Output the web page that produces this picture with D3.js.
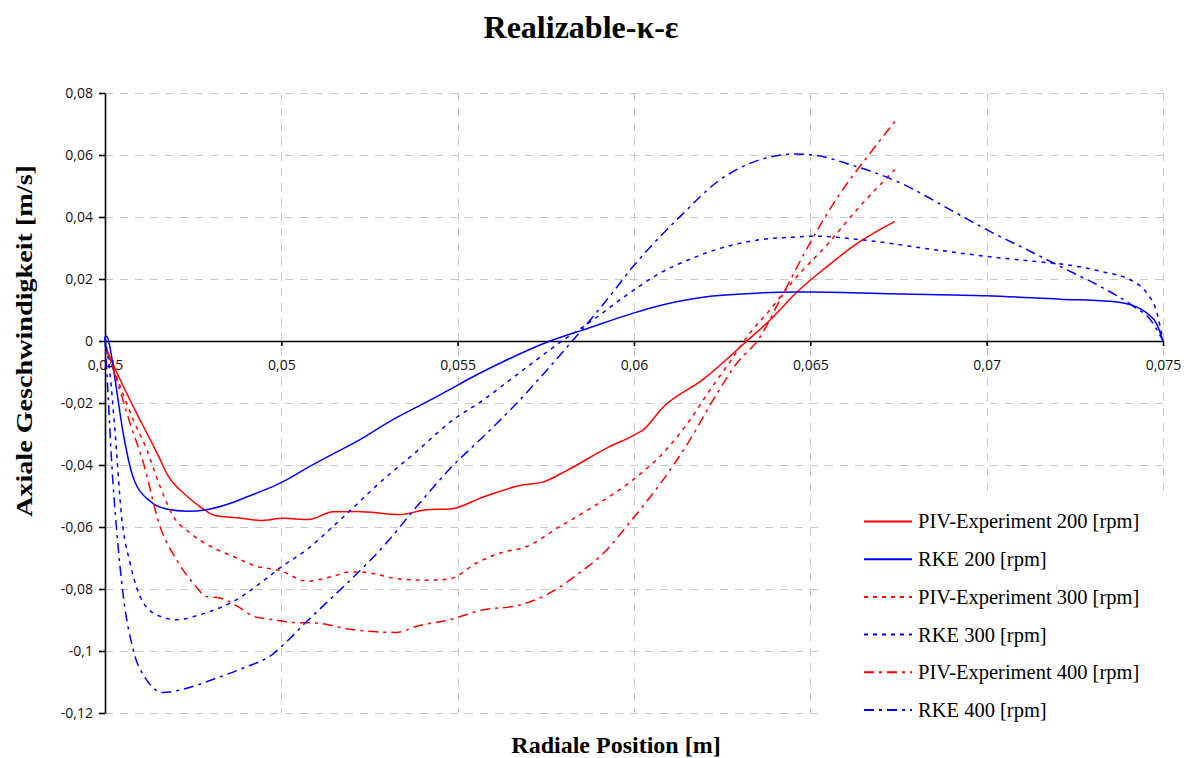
<!DOCTYPE html>
<html>
<head>
<meta charset="utf-8">
<script src="https://cdn.jsdelivr.net/npm/d3@7"></script>
<style>
  body { margin: 0; background: #fff; }
  svg { display: block; }
</style>
</head>
<body>
<svg id="chart" width="1189" height="758"></svg>
<script>
// ---- data -------------------------------------------------------------
const chartTitle = "Realizable-κ-ε";
const xAxisTitle = "Radiale Position [m]";
const yAxisTitle = "Axiale Geschwindigkeit [m/s]";

const xTickValues = [0.045, 0.05, 0.055, 0.06, 0.065, 0.07, 0.075];
const yTickValues = [0.08, 0.06, 0.04, 0.02, 0, -0.02, -0.04, -0.06, -0.08, -0.1, -0.12];

const seriesNames = [
  "PIV-Experiment 200 [rpm]",
  "RKE 200 [rpm]",
  "PIV-Experiment 300 [rpm]",
  "RKE 300 [rpm]",
  "PIV-Experiment 400 [rpm]",
  "RKE 400 [rpm]"
];

// radial position [m], axial velocity [m/s]
const piv200 = [
  [0.04505,-0.0028],[0.04543,-0.0125],[0.04599,-0.0254],[0.04647,-0.0360],[0.04680,-0.0437],
  [0.04732,-0.0500],[0.04769,-0.0534],[0.04812,-0.0563],[0.04883,-0.0571],[0.04940,-0.0579],
  [0.05006,-0.0572],[0.05077,-0.0576],[0.05147,-0.0551],[0.05214,-0.0550],[0.05337,-0.0560],
  [0.05412,-0.0544],[0.05478,-0.0542],[0.05573,-0.0503],[0.05686,-0.0464],[0.05739,-0.0456],
  [0.05809,-0.0418],[0.05932,-0.0340],[0.05998,-0.0305],[0.06027,-0.0286],[0.06083,-0.0213],
  [0.06197,-0.0123],[0.06320,0.0000],[0.06386,0.0068],[0.06462,0.0158],[0.06547,0.0240],
  [0.06641,0.0321],[0.06740,0.0386]
];

const rke200 = [
  [0.04500,0.0010],[0.04505,0.0015],[0.04514,-0.0020],[0.04528,-0.0120],[0.04552,-0.0300],
  [0.04580,-0.0440],[0.04628,-0.0517],[0.04675,-0.0542],[0.04732,-0.0549],[0.04788,-0.0544],
  [0.04864,-0.0520],[0.04911,-0.0499],[0.04977,-0.0469],[0.05006,-0.0453],[0.05072,-0.0410],
  [0.05147,-0.0364],[0.05214,-0.0324],[0.05308,-0.0259],[0.05403,-0.0202],[0.05459,-0.0168],
  [0.05554,-0.0109],[0.05630,-0.0066],[0.05762,0.0000],[0.05857,0.0036],[0.05998,0.0090],
  [0.06083,0.0117],[0.06216,0.0144],[0.06358,0.0155],[0.06452,0.0158],[0.06499,0.0158],
  [0.06755,0.0152],[0.07000,0.0146],[0.07208,0.0135],[0.07350,0.0128],[0.07416,0.0114],
  [0.07454,0.0090],[0.07483,0.0053],[0.07500,0.0000]
];

const piv300 = [
  [0.04505,-0.0030],[0.04543,-0.0146],[0.04580,-0.0254],[0.04618,-0.0350],[0.04656,-0.0469],
  [0.04694,-0.0566],[0.04741,-0.0619],[0.04798,-0.0662],[0.04864,-0.0695],[0.04930,-0.0727],
  [0.04996,-0.0740],[0.05072,-0.0775],[0.05147,-0.0759],[0.05195,-0.0745],[0.05233,-0.0746],
  [0.05337,-0.0768],[0.05412,-0.0772],[0.05478,-0.0767],[0.05554,-0.0716],[0.05620,-0.0684],
  [0.05696,-0.0663],[0.05790,-0.0598],[0.05885,-0.0534],[0.05998,-0.0447],[0.06083,-0.0361],
  [0.06159,-0.0254],[0.06216,-0.0157],[0.06263,-0.0082],[0.06329,0.0026],[0.06386,0.0101],
  [0.06452,0.0195],[0.06547,0.0310],[0.06641,0.0435],[0.06740,0.0553]
];

const rke300 = [
  [0.04500,0.0010],[0.04514,-0.0102],[0.04528,-0.0286],[0.04547,-0.0566],[0.04571,-0.0716],
  [0.04609,-0.0845],[0.04656,-0.0888],[0.04703,-0.0899],[0.04769,-0.0883],[0.04864,-0.0840],
  [0.04959,-0.0765],[0.04996,-0.0732],[0.05072,-0.0673],[0.05147,-0.0598],[0.05195,-0.0547],
  [0.05289,-0.0447],[0.05384,-0.0356],[0.05478,-0.0262],[0.05573,-0.0190],[0.05649,-0.0125],
  [0.05796,0.0000],[0.05885,0.0069],[0.05980,0.0149],[0.06074,0.0219],[0.06168,0.0268],
  [0.06263,0.0305],[0.06358,0.0327],[0.06452,0.0335],[0.06518,0.0338],[0.06641,0.0327],
  [0.06849,0.0295],[0.07000,0.0273],[0.07133,0.0257],[0.07227,0.0246],[0.07322,0.0225],
  [0.07416,0.0192],[0.07454,0.0155],[0.07483,0.0090],[0.07500,0.0000]
];

const piv400 = [
  [0.04505,-0.0030],[0.04533,-0.0125],[0.04571,-0.0265],[0.04609,-0.0394],[0.04656,-0.0598],
  [0.04703,-0.0706],[0.04750,-0.0781],[0.04788,-0.0824],[0.04826,-0.0829],[0.04883,-0.0861],
  [0.04921,-0.0888],[0.04977,-0.0899],[0.05034,-0.0908],[0.05100,-0.0910],[0.05195,-0.0930],
  [0.05327,-0.0940],[0.05384,-0.0920],[0.05478,-0.0899],[0.05573,-0.0867],[0.05668,-0.0854],
  [0.05753,-0.0818],[0.05857,-0.0738],[0.05904,-0.0695],[0.05998,-0.0571],[0.06083,-0.0447],
  [0.06159,-0.0318],[0.06225,-0.0189],[0.06292,-0.0071],[0.06353,0.0005],[0.06424,0.0155],
  [0.06499,0.0316],[0.06585,0.0477],[0.06660,0.0592],[0.06740,0.0708]
];

const rke400 = [
  [0.04500,0.0015],[0.04509,-0.0179],[0.04519,-0.0394],[0.04533,-0.0609],[0.04552,-0.0824],
  [0.04580,-0.0996],[0.04618,-0.1093],[0.04665,-0.1134],[0.04732,-0.1120],[0.04817,-0.1087],
  [0.04892,-0.1055],[0.04977,-0.1009],[0.05001,-0.0985],[0.05072,-0.0905],[0.05147,-0.0824],
  [0.05195,-0.0772],[0.05289,-0.0663],[0.05384,-0.0534],[0.05478,-0.0412],[0.05573,-0.0308],
  [0.05668,-0.0200],[0.05762,-0.0082],[0.05828,0.0004],[0.05885,0.0080],[0.05923,0.0133],
  [0.05998,0.0241],[0.06131,0.0402],[0.06244,0.0520],[0.06358,0.0585],[0.06452,0.0603],
  [0.06509,0.0600],[0.06613,0.0569],[0.06755,0.0510],[0.06896,0.0424],[0.07000,0.0359],
  [0.07133,0.0284],[0.07227,0.0230],[0.07322,0.0176],[0.07416,0.0112],[0.07464,0.0069],
  [0.07500,0.0000]
];

// ---- styling per series ------------------------------------------------
const RED = "#ff0000", BLUE = "#0000ff";
const DOT = "4,5", DASHDOT = "10,5,3,5";
const series = [
  { name: seriesNames[0], data: piv200, color: RED,  dash: null },
  { name: seriesNames[1], data: rke200, color: BLUE, dash: null },
  { name: seriesNames[2], data: piv300, color: RED,  dash: DOT },
  { name: seriesNames[3], data: rke300, color: BLUE, dash: DOT },
  { name: seriesNames[4], data: piv400, color: RED,  dash: DASHDOT },
  { name: seriesNames[5], data: rke400, color: BLUE, dash: DASHDOT }
];

// ---- layout -------------------------------------------------------------
const svg = d3.select("#chart");
const W = 1189, H = 758;
const margin = { top: 93, right: 26, bottom: 45, left: 105 };
const serif = '"Liberation Serif", "Times New Roman", serif';
const sans = '"Open Sans", "Noto Sans", sans-serif';

const x = d3.scaleLinear().domain([0.045, 0.075]).range([margin.left, W - margin.right]);
const y = d3.scaleLinear().domain([-0.12, 0.08]).range([H - margin.bottom, margin.top]);

const locale = d3.formatLocale({ decimal: ",", thousands: ".", grouping: [3], currency: ["", "€"], minus: "-" });
const fmt = v => locale.format("~g")(+v.toFixed(4));

// gridlines
const grid = svg.append("g").attr("stroke", "#c8c8c8").attr("stroke-width", 1)
  .attr("stroke-dasharray", "8,7").attr("shape-rendering", "crispEdges");
grid.selectAll("line.h").data(yTickValues.filter(v => v !== 0)).join("line")
  .attr("class", "h")
  .attr("x1", x(0.045)).attr("x2", x(0.075))
  .attr("y1", d => Math.round(y(d)) + 0.5).attr("y2", d => Math.round(y(d)) + 0.5);
grid.selectAll("line.v").data(xTickValues.filter(v => v !== 0.045)).join("line")
  .attr("class", "v")
  .attr("y1", y(0.08)).attr("y2", y(-0.12))
  .attr("x1", d => Math.round(x(d)) + 0.5).attr("x2", d => Math.round(x(d)) + 0.5);

// y axis
const yAxis = svg.append("g")
  .attr("transform", `translate(${x(0.045)},0)`)
  .call(d3.axisLeft(y).tickValues(yTickValues).tickFormat(fmt).tickSize(6).tickSizeOuter(0).tickPadding(6));

// x axis on the zero line
const xAxis = svg.append("g")
  .attr("transform", `translate(0,${y(0)})`)
  .call(d3.axisBottom(x).tickValues(xTickValues).tickFormat(fmt).tickSize(5).tickSizeOuter(0).tickPadding(14));

[yAxis, xAxis].forEach(g => {
  g.select(".domain").attr("stroke", "#000").attr("stroke-width", 1.6);
  g.selectAll(".tick line").attr("stroke", "#000").attr("stroke-width", 1.6);
  g.selectAll(".tick text").attr("fill", "#111").style("font-family", sans).style("font-size", "14px");
});

// series
const line = d3.line().x(d => x(d[0])).y(d => y(d[1])).curve(d3.curveMonotoneX);
svg.append("g").selectAll("path").data(series).join("path")
  .attr("d", d => line(d.data))
  .attr("fill", "none")
  .attr("stroke", d => d.color)
  .attr("stroke-width", 1.5)
  .attr("stroke-dasharray", d => d.dash);

// legend
const legend = svg.append("g");
legend.append("rect").attr("x", 821).attr("y", 497).attr("width", 350).attr("height", 250).attr("fill", "#fff");
const rowY = d3.scalePoint().domain(seriesNames).range([521.5, 710]);
const rows = legend.selectAll("g.row").data(series).join("g").attr("class", "row")
  .attr("transform", d => `translate(0,${rowY(d.name)})`);
rows.append("line").attr("x1", 864).attr("x2", 912).attr("y1", 0).attr("y2", 0)
  .attr("stroke", d => d.color).attr("stroke-width", 2)
  .attr("stroke-dasharray", d => d.dash);
rows.append("text").attr("x", 918).attr("y", 0).attr("dy", "0.34em")
  .style("font-family", serif).style("font-size", "20.5px").attr("fill", "#000")
  .text(d => d.name);

// titles
svg.append("text").attr("x", 581).attr("y", 38).attr("text-anchor", "middle")
  .style("font-family", serif).style("font-size", "32px").style("font-weight", "bold")
  .text(chartTitle);
svg.append("text").attr("x", 616).attr("y", 753).attr("text-anchor", "middle")
  .style("font-family", serif).style("font-size", "24px").style("font-weight", "bold")
  .text(xAxisTitle);
svg.append("text").attr("transform", `translate(32,${y(0)}) rotate(-90)`).attr("text-anchor", "middle")
  .style("font-family", serif).style("font-size", "24px").style("font-weight", "bold")
  .attr("textLength", 352).attr("lengthAdjust", "spacingAndGlyphs")
  .text(yAxisTitle);
</script>
</body>
</html>
